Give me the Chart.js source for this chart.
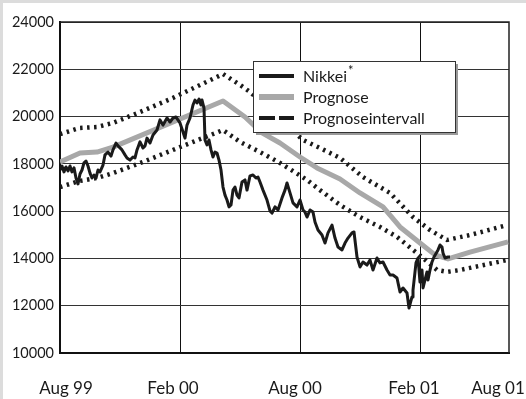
<!DOCTYPE html>
<html>
<head>
<meta charset="utf-8">
<script src="https://cdn.jsdelivr.net/npm/chart.js@4.4.1/dist/chart.umd.min.js"></script>
<style>
  html, body { margin: 0; padding: 0; background: #dcdcdc; }
  body { width: 526px; height: 399px; position: relative; overflow: hidden; }
  #wrap { position: absolute; left: 3px; top: 3px; width: 523px; height: 396px; background: #ffffff; }
  canvas { display: block; }
</style>
</head>
<body>
<div id="wrap"><canvas id="c" width="523" height="396"></canvas></div>
<script>
// Time axis in months since August 1999
const xTickLabels = ['Aug 99', 'Feb 00', 'Aug 00', 'Feb 01', 'Aug 01'];
const xTickLabelAt = [0.3, 5.65, 11.75, 17.7, 21.9];
const xGridMonths = [0, 6, 12, 18];
const yTicks = [10000, 12000, 14000, 16000, 18000, 20000, 22000, 24000];

// Nikkei index (daily closing, sampled)
const nikkeiMonth = [0, 0.1, 0.2, 0.3, 0.4, 0.5, 0.6, 0.7, 0.8, 0.9, 1.0, 1.1, 1.2, 1.3, 1.4, 1.5, 1.6, 1.7, 1.8, 1.9,
  2.0, 2.15, 2.25, 2.4, 2.55, 2.65, 2.8, 2.9, 3.1, 3.25, 3.35, 3.5, 3.65, 3.75, 3.85, 4.0, 4.15, 4.25, 4.35, 4.5,
  4.65, 4.85, 5.0, 5.15, 5.35, 5.5, 5.65, 5.8, 6.0, 6.15, 6.25, 6.35, 6.5, 6.65, 6.75, 6.85, 6.95, 7.05, 7.1, 7.2,
  7.25, 7.35, 7.45, 7.55, 7.65, 7.75, 7.85, 7.95, 8.05, 8.15, 8.25, 8.35, 8.45, 8.55, 8.65, 8.75, 8.85, 8.95, 9.1, 9.25,
  9.35, 9.5, 9.65, 9.8, 9.9, 10.0, 10.15, 10.35, 10.5, 10.6, 10.75, 10.9, 11.1, 11.25, 11.35, 11.5, 11.65, 11.85, 12.0, 12.15,
  12.25, 12.35, 12.5, 12.65, 12.75, 12.9, 13.1, 13.25, 13.4, 13.6, 13.75, 13.9, 14.1, 14.25, 14.4, 14.6, 14.7, 14.85, 15.0, 15.15,
  15.35, 15.5, 15.65, 15.85, 16.0, 16.15, 16.35, 16.5, 16.65, 16.85, 17.0, 17.15, 17.35, 17.45, 17.6, 17.65, 17.8, 17.9, 18.0, 18.1,
  18.15, 18.35, 18.4, 18.5, 18.6, 18.7, 18.9, 19.0, 19.1, 19.15, 19.25, 19.4, 19.5];
const nikkeiValue = [17740, 17910, 17660, 17870, 17700, 17910, 17660, 17830, 17400, 17150, 17570, 17740, 18040, 18120, 17910, 17610, 17400, 17530, 17400, 17740,
  17660, 17950, 18380, 18500, 18330, 18590, 18880, 18760, 18590, 18380, 18250, 18160, 18290, 18250, 18590, 18930, 18670, 18760, 19090, 18880,
  19220, 19430, 19860, 19640, 19940, 19770, 19940, 19980, 19730, 19350, 19090, 19640, 19940, 20490, 20700, 20575, 20740, 20490, 20700, 20360,
  19010, 18800, 19010, 18590, 18290, 18500, 18460, 18160, 17740, 17020, 16680, 16470, 16180, 16260, 16890, 17020, 16680, 16560, 17230, 17320,
  16890, 17490, 17530, 17400, 17440, 17230, 16890, 16470, 16010, 15920, 16180, 16050, 16560, 16890, 17190, 16770, 16350, 16180, 16470, 16050,
  15960, 15750, 16050, 15960, 15540, 15200, 14990, 14650, 15080, 15410, 14860, 14480, 14360, 14650, 14860, 15080, 15120, 14060, 13640, 13850,
  13720, 13930, 13510, 14020, 13810, 13850, 13510, 13300, 13300, 13170, 12580, 12750, 12540, 11900, 12370, 12660, 13810, 14020, 13000, 13510,
  12750, 13430, 13090, 13510, 13850, 14060, 14360, 14570, 14480, 14230, 14020, 14060, 14060];

// Forecast
const prognoseMonth = [0, 1, 1.85, 2.65, 8.15, 9.25, 10.1, 11, 12, 12.85, 14, 15, 16.15, 17, 18, 18.75, 19.4, 20.5, 22.4];
const prognoseValue = [18080, 18460, 18500, 18710, 20660, 19980, 19310, 18880, 18290, 17830, 17360, 16770, 16180, 15330, 14650, 14150, 13980, 14270, 14700];

// Forecast interval, upper and lower bound
const upperMonth = [0, 1, 1.85, 2.65, 4, 5.65, 8.15, 9, 9.5, 12.15, 13, 14, 15.15, 16.5, 17.65, 18.5, 19.35, 20.5, 22.35];
const upperValue = [19260, 19520, 19560, 19730, 20190, 20790, 21800, 21340, 21040, 19010, 18670, 18250, 17440, 16770, 15750, 15200, 14780, 14990, 15410];
const lowerMonth = [0, 1, 1.85, 2.65, 4.15, 6, 8.15, 9, 10, 11, 12.35, 13, 14, 15, 16, 16.85, 17.65, 18.15, 18.85, 19.35, 20, 20.5, 22.35];
const lowerValue = [17020, 17280, 17400, 17610, 18080, 18710, 19430, 18930, 18500, 18040, 17320, 16890, 16260, 15750, 15330, 14910, 14360, 14020, 13510, 13430, 13510, 13600, 13930];

const legendItems = [
  { text: 'Nikkei', sup: '*', style: 'solid' },
  { text: 'Prognose', sup: '', style: 'gray' },
  { text: 'Prognoseintervall', sup: '', style: 'dash' }
];

const FONT = 'Lato, "Open Sans", sans-serif';
const INK = '#1a1a1a';
const GRAY = '#a8a8a8';

function pts(xs, ys) { return xs.map((x, i) => ({ x: x, y: ys[i] })); }

// Top and right frame of the plot area
const framePlugin = {
  id: 'frame',
  beforeDatasetsDraw(chart) {
    const { ctx, chartArea: a } = chart;
    ctx.save();
    ctx.strokeStyle = '#222';
    ctx.lineWidth = 1.5;
    ctx.beginPath();
    ctx.moveTo(a.left, a.top);
    ctx.lineTo(a.right, a.top);
    ctx.lineTo(a.right, a.bottom);
    ctx.stroke();
    ctx.restore();
  }
};

// Month labels under the x axis
const monthLabels = {
  id: 'monthLabels',
  afterDraw(chart) {
    const { ctx, scales: { x } } = chart;
    ctx.save();
    ctx.font = '17px ' + FONT;
    ctx.fillStyle = INK;
    ctx.textAlign = 'center';
    ctx.textBaseline = 'middle';
    xTickLabels.forEach((t, i) => {
      ctx.fillText(t, x.getPixelForValue(xTickLabelAt[i]), chart.chartArea.bottom + 36);
    });
    ctx.restore();
  }
};

// Boxed legend inside the plot area
const boxLegend = {
  id: 'boxLegend',
  afterDraw(chart) {
    const { ctx, chartArea: a } = chart;
    const left = a.left + 193, top = a.top + 39, w = 202, h = 71;
    ctx.save();
    ctx.fillStyle = '#9a9a9a';
    ctx.fillRect(left + 3, top + 3, w, h);
    ctx.fillStyle = '#ffffff';
    ctx.fillRect(left, top, w, h);
    ctx.strokeStyle = '#333';
    ctx.lineWidth = 1;
    ctx.strokeRect(left + 0.5, top + 0.5, w, h);
    ctx.font = '16px ' + FONT;
    ctx.textBaseline = 'middle';
    legendItems.forEach((it, i) => {
      const y = top + 15 + i * 21;
      const x0 = left + 6, x1 = left + 41;
      ctx.beginPath();
      ctx.lineCap = 'butt';
      if (it.style === 'solid') {
        ctx.strokeStyle = INK; ctx.lineWidth = 4; ctx.setLineDash([]);
      } else if (it.style === 'gray') {
        ctx.strokeStyle = GRAY; ctx.lineWidth = 6; ctx.setLineDash([]);
      } else {
        ctx.strokeStyle = INK; ctx.lineWidth = 4; ctx.setLineDash([16, 4]);
      }
      ctx.moveTo(x0, y);
      ctx.lineTo(x1, y);
      ctx.stroke();
      ctx.setLineDash([]);
      ctx.fillStyle = INK;
      ctx.textAlign = 'left';
      ctx.fillText(it.text, left + 50, y + 1);
      if (it.sup) {
        const tw = ctx.measureText(it.text).width;
        ctx.font = '13px ' + FONT;
        ctx.fillText(it.sup, left + 50 + tw + 1, y - 5);
        ctx.font = '16px ' + FONT;
      }
    });
    ctx.restore();
  }
};

const bandStyle = {
  borderColor: INK,
  borderWidth: 4.5,
  borderDash: [2.5, 4.5],
  borderCapStyle: 'butt',
  pointRadius: 0,
  tension: 0,
  fill: false
};

new Chart(document.getElementById('c'), {
  type: 'line',
  data: {
    datasets: [
      {
        label: 'Nikkei*', data: pts(nikkeiMonth, nikkeiValue), order: 0,
        borderColor: INK, borderWidth: 3, borderJoinStyle: 'round',
        pointRadius: 0, tension: 0, fill: false
      },
      Object.assign({ label: 'Prognoseintervall', data: pts(upperMonth, upperValue), order: 1 }, bandStyle),
      Object.assign({ label: 'Prognoseintervall unten', data: pts(lowerMonth, lowerValue), order: 2 }, bandStyle),
      {
        label: 'Prognose', data: pts(prognoseMonth, prognoseValue), order: 3,
        borderColor: GRAY, borderWidth: 5, borderJoinStyle: 'round',
        pointRadius: 0, tension: 0, fill: false
      }
    ]
  },
  options: {
    responsive: false,
    devicePixelRatio: 1,
    animation: false,
    layout: { padding: { left: 0, right: 17, top: 19, bottom: 0 } },
    plugins: { legend: { display: false }, tooltip: { enabled: false } },
    scales: {
      x: {
        type: 'linear', min: 0, max: 22.45,
        afterBuildTicks(scale) { scale.ticks = xGridMonths.map(v => ({ value: v })); },
        afterFit(scale) { scale.height = 46; },
        ticks: { display: false },
        grid: { color: '#111', lineWidth: 1, drawTicks: false },
        border: { color: '#111', width: 2 }
      },
      y: {
        min: 10000, max: 24000,
        afterBuildTicks(scale) { scale.ticks = yTicks.map(v => ({ value: v })); },
        afterFit(scale) { scale.width = 57; },
        ticks: {
          font: { family: FONT, size: 14.5 }, color: INK, padding: 6,
          callback: v => String(v)
        },
        grid: { color: '#333', lineWidth: 1, drawTicks: false },
        border: { color: '#111', width: 2 }
      }
    }
  },
  plugins: [framePlugin, monthLabels, boxLegend]
});
</script>
</body>
</html>
